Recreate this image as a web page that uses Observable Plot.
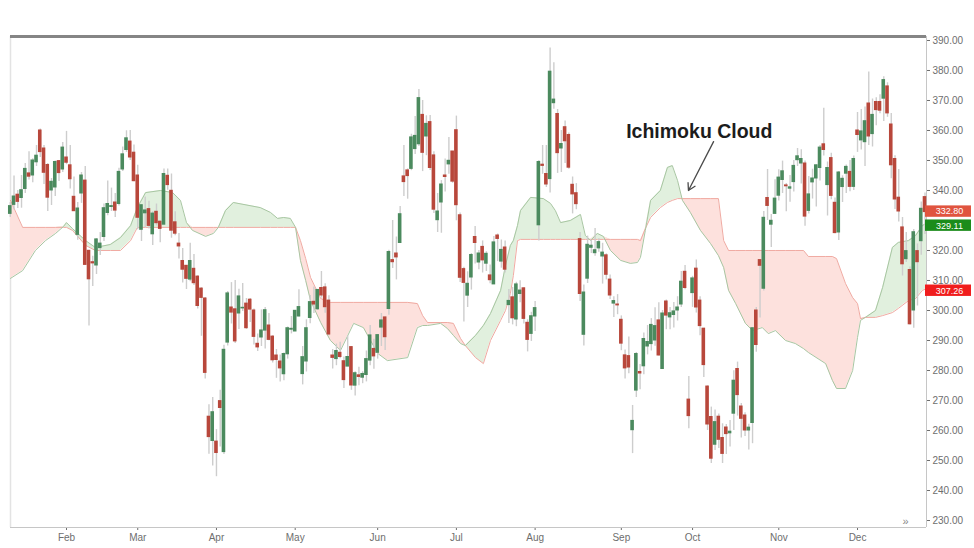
<!DOCTYPE html>
<html><head><meta charset="utf-8">
<script src="https://cdn.jsdelivr.net/npm/d3@7"></script>
<script src="https://cdn.jsdelivr.net/npm/@observablehq/plot@0.6"></script>
<style>
html,body{margin:0;padding:0;background:#fff;}
#chart svg{display:block;}
</style></head>
<body><div id="chart"></div>
<script>
// trading-day index of the first candle shown (Jan 10)
const firstIndex = 6;

const open = [
332.2,335.2,338.6,337.5,340.5,345.7,345.0,349.4,360.0,354.0,
348.5,340.0,341.0,349.8,347.0,351.0,348.4,337.9,325.2,339.0,
343.3,319.9,316.1,315.0,320.8,324.5,332.5,334.5,336.0,335.5,
347.0,353.5,356.3,352.6,345.0,326.9,332.4,333.8,325.4,332.9,
329.6,328.6,344.9,339.9,329.4,322.3,316.5,314.9,310.3,313.9,
311.3,307.3,304.0,264.6,256.5,256.3,269.8,252.8,289.3,301.0,
300.4,299.0,300.7,302.3,303.6,300.0,288.9,291.0,293.3,295.0,
291.3,285.0,283.0,278.75,285.4,293.6,293.0,298.0,278.8,283.0,
297.5,302.9,300.4,307.5,307.7,303.3,285.0,283.8,285.9,283.1,
281.3,287.8,274.95,278.4,277.6,278.5,283.3,287.2,285.9,294.3,
297.7,300.5,316.8,319.0,322.5,344.7,346.7,347.2,353.8,355.4,
365.2,358.0,362.8,351.7,330.1,336.0,345.0,348.7,353.0,360.1,
331.75,313.8,304.95,311.0,324.5,316.0,321.2,315.6,311.7,308.7,
325.0,316.3,321.0,301.8,304.4,297.0,305.5,307.4,295.9,292.2,
298.0,328.4,348.6,345.5,343.8,369.1,365.5,354.0,361.1,358.5,
341.9,339.1,323.8,291.9,310.6,320.9,319.1,320.7,318.0,318.4,
310.3,302.3,302.0,296.9,285.05,284.8,260.1,273.3,279.5,281.4,
288.0,288.8,290.0,296.7,280.5,303.0,297.7,298.5,300.0,302.0,
312.9,270.3,305.8,313.95,303.3,293.95,274.65,264.5,255.25,264.6,
257.5,261.0,259.06,265.6,280.5,268.0,265.0,260.0,262.5,300.0,
316.8,307.25,337.5,328.6,332.2,338.26,343.5,341.7,340.6,342.8,
350.1,349.0,349.0,333.2,342.7,344.0,347.5,355.4,341.8,350.8,
335.9,326.0,341.15,345.6,346.2,341.2,360.0,356.7,356.1,369.0,
358.8,369.5,369.5,370.6,374.7,362.0,350.5,337.6,327.7,317.1,
313.5,300.0,319.8,323.1,337.8
];
const high = [
336,344.8,340,345,349,352.9,350.6,355,360.5,355,
349,344,349.8,350,356,359.7,355,344.5,336,346,
348,320,318.1,324,326,335.5,343.2,340.8,339,347.4,
354.5,359.9,360,355.2,348.4,335.2,337.8,336.4,332.9,335.5,
329.8,347.2,347.2,345.5,332.9,325.7,320.7,315,322.4,318.7,
311.6,307.6,304.3,268.6,271,260.3,273.4,288.4,306.3,309.3,
310,307.1,309,304,304,300.5,292.2,300.2,301,299,
291.6,287,285.2,285.85,294.5,298,300,306.9,288,296.9,
305,307.8,307,313,308.9,304.9,287,288.8,289.4,284.5,
291.5,288,279.6,281.1,279.6,286.5,295,290.4,292,299,
297.8,320.1,330,324.5,334.7,355,347.2,358.75,364.7,373.7,
370,364.9,365,352.9,339,343.3,350.5,357.7,353,364.8,
332.5,314.4,312.9,319,328,320,323.2,319.6,315.2,324.7,
325.5,323.5,323.2,307,307.7,309.4,309.9,307.6,296.9,299.4,
303,350,355,355,387.5,382.6,367,360,363.2,359.2,
344.5,342.3,326,308.5,324.8,323.4,327.3,323.9,322.4,318.9,
311.8,304.6,305.3,298.2,286.8,291.2,268.35,286,282,292.5,
295,297.3,300.9,302.6,300,303.5,301,302.7,304.6,313,
314.96,278,311.4,316.84,304.6,294,274.9,267.8,266.8,265.5,
262.25,262,263.3,279.9,282.8,269,265.9,262.1,294.2,301,
316.8,333,347,332,343.6,346.9,349.8,342.3,345,350,
354,353.6,349.8,344.7,347.1,348.6,355,367.4,349.5,352.4,
337.5,346.3,344.9,348.5,350,351.5,366,367,367.8,379.5,
370.5,370.9,371.9,377.9,375.9,365.7,351.6,347,331,326,
314.5,327,322.2,336.2,339.2
];
const low = [
331,333.5,334,334.1,339,343.5,342.6,348,351,342,
333,335,338,343,346,348.6,340.5,333,323.4,335.7,
315,294.8,308,312,318.3,323,331.6,333,331,334.8,
346.3,352.7,350,342.9,326.9,323,327.6,327.2,321.7,328.2,
322.6,328.6,340.1,324.1,324.9,317.2,309.2,307,309.6,308.3,
300.5,291.4,277.2,252.1,248.2,244.6,254.5,252,288.2,295.5,
289,293.7,299.7,293.7,296,288.5,286.3,288,287.2,289.9,
282.5,277.4,276.2,276.6,283.8,292.2,293,297.8,275.2,279.5,
295.6,299,300.05,304.1,299.1,291.6,280.5,281.6,283.9,274,
281.3,273.4,271.5,274.9,275.6,276.2,281.6,280.4,283.8,288,
286.7,298.4,314,310.2,322.5,338,337.1,346.6,352,354.7,
346.3,351.6,346.7,332.3,326,325.75,339.5,345.4,342.4,329.9,
309.3,296.2,301,306.8,315.5,313.6,312.5,313,308.9,308.7,
316.3,314.1,312.5,295.7,295.2,294.6,302.6,295.5,286.2,289.7,
293,323.2,345.4,341,339.2,367.1,345.7,346,349,347.1,
332.2,333.6,303,288.2,309,319,318.1,319.4,308.8,310.2,
303.7,297.7,298.6,286.6,277.2,278.9,252.3,271,273.6,278.6,
285.2,286.5,288.1,284.8,280.5,293.6,293.6,294.2,296.5,301,
306.9,260.6,301.05,299.15,291.6,277.7,260,249,253.3,254,
249,252,254.5,260,264.8,257.5,258,253.5,255.6,286.1,
297.5,306.5,330,321,332.1,336.5,339,332.9,336.1,339.5,
348,342.2,328.1,332.2,337.15,334.5,343.2,351.5,331.5,336.9,
325.6,323.3,336,339,339.6,340,352.7,353.5,348,355,
354.5,361.6,365.6,363,364.4,343.9,333.7,329.5,311.5,316,
295.2,294.1,301.5,318.4,325.3
];
const close = [
334.8,338.0,336.2,340.1,347.2,344.6,350.0,351.6,352.8,345.9,
337.6,342.9,349.5,345.8,354.3,349.25,343.75,333.1,334.0,345.0,
315.2,310.4,315.7,323.7,322.3,334.1,335.5,334.8,333.3,346.2,
352.05,357.4,351.0,343.1,330.9,335.1,333.35,328.2,332.3,329.1,
327.2,345.5,341.8,326.6,325.6,321.35,313.6,310.55,316.5,309.1,
301.5,304.2,279.2,257.8,266.1,252.5,267.5,286.9,305.7,299.3,
289.7,304.7,300.9,294.1,300.3,291.2,287.7,293.35,300.1,290.2,
283.4,283.5,280.7,285.5,294.1,293.9,299.9,301.15,284.45,294.1,
302.8,302.0,306.85,305.0,301.1,292.0,284.2,286.5,284.5,276.8,
284.5,275.0,279.1,277.85,278.85,283.8,291.7,284.7,291.8,296.7,
291.1,319.5,316.1,317.7,332.1,342.8,344.8,357.7,358.2,370.8,
352.55,362.2,347.5,333.6,333.0,342.0,344.5,349.9,342.95,335.1,
310.9,309.2,308.9,318.5,322.5,319.0,316.7,318.9,310.1,322.7,
323.85,320.2,313.6,303.2,297.4,308.7,306.65,297.2,290.2,298.1,
300.8,349.5,348.2,342.0,379.6,370.3,352.45,355.5,356.4,347.6,
338.7,335.45,305.5,306.0,321.9,321.6,320.1,322.8,319.3,311.9,
305.0,303.15,301.7,288.95,280.7,281.0,263.2,285.5,279.0,290.5,
289.5,295.2,294.8,285.0,299.0,298.3,299.1,299.7,301.0,309.6,
307.5,264.8,310.7,301.0,294.8,281.8,262.0,250.6,262.8,256.9,
252.2,258.8,259.6,276.6,271.8,263.9,260.0,260.95,294.1,288.5,
314.9,330.9,334.85,329.9,337.3,344.3,346.4,341.4,341.06,348.2,
351.4,350.5,331.3,338.7,344.0,348.4,354.3,353.5,347.5,338.2,
325.8,346.0,343.9,347.87,341.2,350.5,358.5,359.7,363.1,358.0,
365.2,366.8,366.6,376.8,365.7,348.4,337.0,333.0,315.4,319.8,
295.4,326.1,316.1,333.9,332.8
];

// Ichimoku cloud (Senkou Span A / B)
const cloudIndex = [6.06,9.3,12.7,15.4,18.1,20.2,21.0,22.6,26.1,28.7,32.7,35.4,38.1,39.9,42.1,46.1,49.3,51.4,53.0,54.6,
58.1,60.2,61.5,63.4,65.5,72.7,75.4,77.3,78.9,80.7,82.1,83.4,84.8,86.1,88.8,91.4,94.1,97.6,100.2,104.0,
106.6,112.0,114.6,116.0,117.3,120.8,122.6,124.2,126.1,127.4,130.1,132.2,134.1,136.8,138.1,139.4,140.2,141.3,142.1,144.8,
148.2,150.1,151.4,152.8,155.4,158.1,159.4,160.8,162.6,164.2,166.1,168.8,171.4,173.3,174.1,175.4,176.8,179.4,181.3,182.6,
184.0,185.3,187.4,190.1,192.8,194.9,196.3,197.6,199.5,202.1,204.0,206.6,208.2,210.1,212.8,215.4,217.6,218.9,223.5,225.3,
226.4,228.8,230.7,232.0,232.8,234.1,236.8,238.7,241.3,242.9,245.6,247.5,249.3,250.4];
const spanA = [310.7,313.3,320.0,323.3,325.7,328.0,329.3,327.3,323.3,321.0,322.0,324.3,328.3,334.3,339.3,340.0,339.3,336.7,329.3,326.7,
324.7,325.7,327.7,333.3,336.0,334.3,332.7,330.7,331.0,330.7,327.7,316.7,310.0,303.3,296.0,290.0,286.7,295.7,294.3,285.7,
283.3,284.3,294.3,295.0,295.0,295.7,294.0,291.7,289.0,288.3,291.7,295.0,299.0,306.7,315.0,321.7,323.3,328.3,333.3,337.7,
337.3,335.7,333.3,329.3,330.0,332.0,325.0,323.3,325.7,324.7,320.0,316.7,315.7,316.0,317.7,326.7,336.7,340.0,347.7,348.3,
343.3,336.7,332.7,326.7,322.3,318.3,314.3,306.7,302.3,295.7,293.3,294.3,292.3,293.3,290.0,289.0,287.3,286.0,282.3,276.7,
274.0,274.0,280.0,291.0,296.7,297.7,300.0,307.7,321.0,322.7,323.3,325.0,328.3,329.11];
const spanB = [336.7,327.7,327.7,327.7,327.7,327.7,327.7,326.7,321.7,320.0,320.0,320.0,323.3,327.7,327.7,327.7,327.7,327.7,327.7,327.7,
327.7,327.7,327.7,327.7,327.7,327.7,327.7,327.7,327.7,327.7,327.7,323.3,317.3,311.0,304.0,302.7,302.7,302.7,302.7,302.7,
302.7,302.7,302.3,298.3,296.0,296.0,296.0,295.7,290.7,288.3,284.3,282.3,290.0,296.7,300.0,305.7,311.7,323.3,323.7,323.7,
323.7,323.7,323.7,323.7,323.7,323.7,323.7,323.7,323.7,323.7,323.7,323.7,323.7,323.7,323.3,327.3,331.0,334.3,336.0,336.7,
337.3,337.3,337.3,337.3,337.3,337.3,323.3,320.0,320.0,320.0,320.0,320.0,320.0,320.0,320.0,320.0,320.0,318.0,318.0,318.0,
317.3,309.0,304.3,302.3,297.3,297.7,297.7,298.3,299.3,300.7,303.3,304.0,306.7,307.26];

// axis ticks (330.00 sits hidden behind the value boxes)
const monthTicks = [21,40,61,82,104,125,146,169,188,211,232];
const monthLabels = ["Feb","Mar","Apr","May","Jun","Jul","Aug","Sep","Oct","Nov","Dec"];
const priceTicks = [230,240,250,260,270,280,290,300,310,320,330,340,350,360,370,380,390];
const hiddenTickLabels = [330];

// last-value labels on the price axis (pixel shift of each box)
const lastValues = [332.80, 329.11, 307.26];
const lastColors = ["#e0543f", "#1b8c1b", "#f01d1d"];
const lastShift = [-0.5, 2.5, 2.0];

// annotation
const noteText = ["Ichimoku Cloud"];
const noteAt = {i: 189.8, p: 359.5};
const arrowFrom = {i: 193.6, p: 356.3};
const arrowTo = {i: 186.9, p: 340.0};

const xDomain = [6.06, 250.4];
const yDomain = [227.67, 391.33];

const candles = open.map((o, k) => ({i: firstIndex + k, o, h: high[k], l: low[k], c: close[k]}));
const cloud = cloudIndex.map((i, k) => ({i, a: spanA[k], b: spanB[k]}));
const labels = lastValues.map((v, k) => ({v, color: lastColors[k], t: v.toFixed(2), s: lastShift[k]}));

const GREEN = "#4b8a5e", RED = "#b8473b";

const chart = Plot.plot({
  width: 974, height: 548,
  marginLeft: 10, marginRight: 48, marginTop: 36, marginBottom: 21,
  style: {fontFamily: "'Liberation Sans', Arial, sans-serif", fontSize: "10px", color: "#6e6e6e", background: "#fff"},
  x: {type: "linear", domain: xDomain, ticks: monthTicks, tickFormat: d => monthLabels[monthTicks.indexOf(d)], tickSize: 3, tickPadding: 3, label: null},
  y: {domain: yDomain, axis: "right", ticks: priceTicks, tickFormat: d => hiddenTickLabels.includes(d) ? "" : d.toFixed(2), tickSize: 3, tickPadding: 3, label: null},
  marks: [
    Plot.ruleX([xDomain[0]], {stroke: "#e3e3e3", strokeWidth: 1.5}),
    Plot.ruleY([yDomain[0]], {stroke: "#c6c6c6"}),
    Plot.ruleX([xDomain[1]], {stroke: "#c6c6c6"}),
    // cloud fills
    Plot.areaY(cloud, {x: "i", y1: "b", y2: d => Math.max(d.a, d.b), fill: "#e1f0de"}),
    Plot.areaY(cloud, {x: "i", y1: "a", y2: d => Math.max(d.a, d.b), fill: "#fde1dd"}),
    Plot.line(cloud, {x: "i", y: "b", stroke: "#f0aaa2", strokeWidth: 1}),
    Plot.line(cloud, {x: "i", y: "a", stroke: "#a8c6a2", strokeWidth: 1}),
    // candles
    Plot.ruleX(candles, {x: "i", y1: "l", y2: "h", stroke: "#cdcdcd", strokeWidth: 1.4}),
    Plot.rect(candles, {x1: d => d.i - 0.48, x2: d => d.i + 0.48, y1: "o", y2: "c",
      fill: d => d.c >= d.o ? GREEN : RED, insetTop: -0.5, insetBottom: -0.5}),
    // top frame line
    Plot.ruleY([yDomain[1]], {stroke: "#858585", strokeWidth: 3}),
    // annotation
    Plot.text(noteText, {x: () => noteAt.i, y: () => noteAt.p, text: d => d, fontSize: 19.5, fontWeight: "bold", fill: "#1c1c1c"}),
    Plot.arrow([0], {x1: () => arrowFrom.i, y1: () => arrowFrom.p, x2: () => arrowTo.i, y2: () => arrowTo.p, stroke: "#4a4a4a", strokeWidth: 1.3, headLength: 9}),
    // last value boxes
    Plot.rect(labels, {x1: () => xDomain[1], x2: () => xDomain[1], y1: d => d.v - d.s / 3 - 1.9, y2: d => d.v - d.s / 3 + 1.9, fill: "color", insetLeft: -1, insetRight: -45}),
    Plot.text(labels, {x: () => xDomain[1], y: d => d.v - d.s / 3, text: "t", dx: 23, fill: "#fff", fontSize: 9}),
    Plot.text(["»"], {frameAnchor: "bottom-right", dx: -18, dy: -3, fill: "#888", fontSize: 11})
  ]
});
document.getElementById("chart").append(chart);
</script>
</body></html>
